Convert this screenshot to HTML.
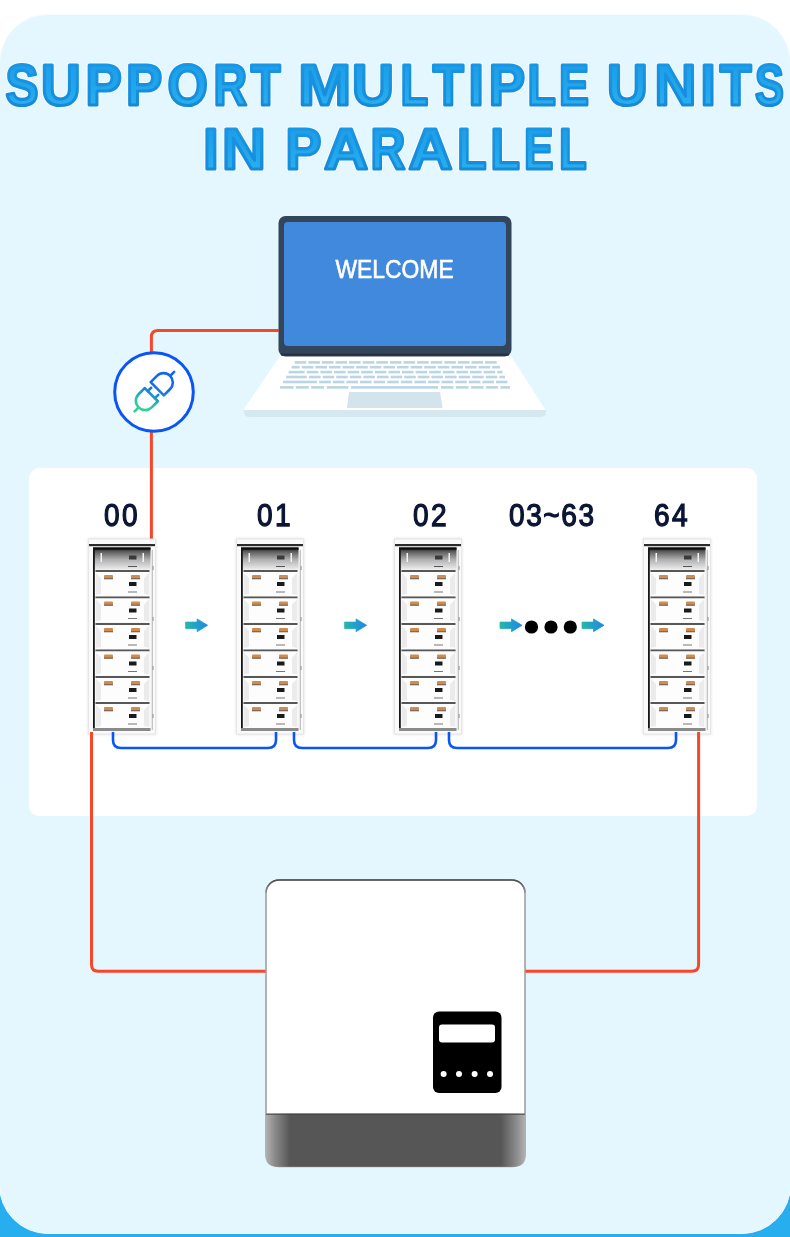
<!DOCTYPE html>
<html><head><meta charset="utf-8">
<style>
*{box-sizing:border-box;margin:0;padding:0}
html,body{width:790px;height:1237px;overflow:hidden}
body{position:relative;font-family:"Liberation Sans",sans-serif;background:linear-gradient(#fff 0,#fff 50%,#27aeee 50%,#27aeee 100%)}
.abs{position:absolute}
#panel{left:-1px;top:14px;width:792px;height:1220px;background:#e4f6fe;border-radius:49px;border:1px solid #f6fcff}
.title{position:absolute;left:0;width:790px;text-align:center;font-weight:bold;font-size:60px;line-height:60px;white-space:nowrap}
.title span{display:inline-block;background:linear-gradient(#45b4f0 0%,#1f9ce8 40%,#1e9ae6 75%,#1887d6 100%);-webkit-background-clip:text;background-clip:text;color:transparent}
#wpanel{left:28.5px;top:468px;width:728.5px;height:348.4px;background:#fff;border-radius:10px}
.num{position:absolute;font-weight:normal;font-size:30.5px;line-height:31px;color:#0b1534;-webkit-text-stroke:1.25px #0b1534;white-space:nowrap;letter-spacing:2.6px;transform:scaleX(0.92);transform-origin:0 0}
.rk{position:absolute;width:68px;height:200px;filter:drop-shadow(0 0 2px rgba(0,0,0,0.12))}
#welcome{position:absolute;left:300px;width:190px;top:256.5px;text-align:center;color:#fff;font-size:25px;line-height:25px;white-space:nowrap}
#welcome span{display:inline-block;transform:scaleX(0.915);-webkit-text-stroke:0.6px #fff}
</style></head>
<body>
<div id="panel" class="abs"></div>

<div id="wpanel" class="abs"></div>

<svg class="abs" style="left:0;top:0" width="790" height="1237">
<defs>
 <linearGradient id="topg" x1="0" y1="0" x2="0" y2="1"><stop offset="0" stop-color="#1a1a1a"/><stop offset="0.2" stop-color="#606060"/><stop offset="0.55" stop-color="#b0b0b0"/><stop offset="1" stop-color="#ececec"/></linearGradient>
 <linearGradient id="arg" x1="0" y1="0" x2="1" y2="0"><stop offset="0" stop-color="#26b8a8"/><stop offset="1" stop-color="#1f86ea"/></linearGradient>
 <linearGradient id="plg" gradientUnits="userSpaceOnUse" gradientTransform="rotate(45)" x1="-8" y1="18" x2="8" y2="-18"><stop offset="0" stop-color="#30d096"/><stop offset="0.17" stop-color="#28c2a4"/><stop offset="0.33" stop-color="#1ea2c8"/><stop offset="0.48" stop-color="#1a82e0"/><stop offset="0.65" stop-color="#166cec"/><stop offset="1" stop-color="#1466f0"/></linearGradient>
 <linearGradient id="invb" x1="0" y1="0" x2="1" y2="0"><stop offset="0" stop-color="#b4b4b4"/><stop offset="0.035" stop-color="#8c8c8c"/><stop offset="0.095" stop-color="#565656"/><stop offset="0.905" stop-color="#565656"/><stop offset="0.965" stop-color="#8c8c8c"/><stop offset="1" stop-color="#b4b4b4"/></linearGradient>
 <linearGradient id="invt" gradientUnits="userSpaceOnUse" x1="0" y1="880" x2="0" y2="893"><stop offset="0" stop-color="#4a4a4a"/><stop offset="1" stop-color="#9a9a9a"/></linearGradient>
 <linearGradient id="tg" gradientUnits="userSpaceOnUse" x1="0" y1="-42" x2="0" y2="2"><stop offset="0" stop-color="#1c9ee9"/><stop offset="0.5" stop-color="#20a6ec"/><stop offset="1" stop-color="#28b0ef"/></linearGradient>
 <linearGradient id="tgs" gradientUnits="userSpaceOnUse" x1="0" y1="-42" x2="0" y2="2"><stop offset="0" stop-color="#1a96e4"/><stop offset="1" stop-color="#168ad9"/></linearGradient>
 <symbol id="rack" viewBox="0 0 68 200" width="68" height="200">
<rect x="0.5" y="3" width="67" height="195" fill="#fafafa" stroke="#e6e6e6" stroke-width="1"/>
<rect x="1" y="8" width="66" height="2.2" fill="#2b2b2b"/>
<rect x="5" y="12" width="57.5" height="183" fill="#f2f2f2"/>
<rect x="5" y="11.5" width="57.5" height="22" fill="url(#topg)"/>
<rect x="12.5" y="17" width="1.5" height="9" fill="#f4f4f4"/>
<rect x="54.5" y="17" width="1.5" height="9" fill="#f4f4f4"/>
<rect x="41" y="19.5" width="7.5" height="4" fill="#3a3a3a"/>
<rect x="5" y="11.5" width="57.5" height="2.2" fill="#0d0d0d"/>
<rect x="40" y="30" width="9" height="1" fill="#555"/>
<rect x="7.5" y="34.0" width="54" height="2" fill="#575757"/>
<rect x="7.5" y="36.0" width="54" height="24" fill="#fdfdfd"/>
<path d="M8 37.0 L13 42.0 L13 58.0 L8 59.0Z" fill="#ebebeb"/>
<path d="M61 37.0 L56 42.0 L56 58.0 L61 59.0Z" fill="#ebebeb"/>
<rect x="16" y="39.0" width="9" height="4" rx="1" fill="#cf8c4e"/>
<rect x="16" y="42.0" width="9" height="1.3" fill="#7d6a5e"/>
<rect x="43" y="39.0" width="9" height="4" rx="1" fill="#cf8c4e"/>
<rect x="43" y="42.0" width="9" height="1.3" fill="#7d6a5e"/>
<rect x="41" y="46.0" width="7.5" height="4" fill="#1a1a1a"/>
<rect x="40" y="55.5" width="9" height="1" fill="#777"/>
<rect x="7.5" y="60.5" width="54" height="2" fill="#575757"/>
<rect x="7.5" y="62.5" width="54" height="24" fill="#fdfdfd"/>
<path d="M8 63.5 L13 68.5 L13 84.5 L8 85.5Z" fill="#ebebeb"/>
<path d="M61 63.5 L56 68.5 L56 84.5 L61 85.5Z" fill="#ebebeb"/>
<rect x="16" y="65.5" width="9" height="4" rx="1" fill="#cf8c4e"/>
<rect x="16" y="68.5" width="9" height="1.3" fill="#7d6a5e"/>
<rect x="43" y="65.5" width="9" height="4" rx="1" fill="#cf8c4e"/>
<rect x="43" y="68.5" width="9" height="1.3" fill="#7d6a5e"/>
<rect x="41" y="72.5" width="7.5" height="4" fill="#1a1a1a"/>
<rect x="40" y="82.0" width="9" height="1" fill="#777"/>
<rect x="7.5" y="87.0" width="54" height="2" fill="#575757"/>
<rect x="7.5" y="89.0" width="54" height="24" fill="#fdfdfd"/>
<path d="M8 90.0 L13 95.0 L13 111.0 L8 112.0Z" fill="#ebebeb"/>
<path d="M61 90.0 L56 95.0 L56 111.0 L61 112.0Z" fill="#ebebeb"/>
<rect x="16" y="92.0" width="9" height="4" rx="1" fill="#cf8c4e"/>
<rect x="16" y="95.0" width="9" height="1.3" fill="#7d6a5e"/>
<rect x="43" y="92.0" width="9" height="4" rx="1" fill="#cf8c4e"/>
<rect x="43" y="95.0" width="9" height="1.3" fill="#7d6a5e"/>
<rect x="41" y="99.0" width="7.5" height="4" fill="#1a1a1a"/>
<rect x="40" y="108.5" width="9" height="1" fill="#777"/>
<rect x="7.5" y="113.5" width="54" height="2" fill="#575757"/>
<rect x="7.5" y="115.5" width="54" height="24" fill="#fdfdfd"/>
<path d="M8 116.5 L13 121.5 L13 137.5 L8 138.5Z" fill="#ebebeb"/>
<path d="M61 116.5 L56 121.5 L56 137.5 L61 138.5Z" fill="#ebebeb"/>
<rect x="16" y="118.5" width="9" height="4" rx="1" fill="#cf8c4e"/>
<rect x="16" y="121.5" width="9" height="1.3" fill="#7d6a5e"/>
<rect x="43" y="118.5" width="9" height="4" rx="1" fill="#cf8c4e"/>
<rect x="43" y="121.5" width="9" height="1.3" fill="#7d6a5e"/>
<rect x="41" y="125.5" width="7.5" height="4" fill="#1a1a1a"/>
<rect x="40" y="135.0" width="9" height="1" fill="#777"/>
<rect x="7.5" y="140.0" width="54" height="2" fill="#575757"/>
<rect x="7.5" y="142.0" width="54" height="24" fill="#fdfdfd"/>
<path d="M8 143.0 L13 148.0 L13 164.0 L8 165.0Z" fill="#ebebeb"/>
<path d="M61 143.0 L56 148.0 L56 164.0 L61 165.0Z" fill="#ebebeb"/>
<rect x="16" y="145.0" width="9" height="4" rx="1" fill="#cf8c4e"/>
<rect x="16" y="148.0" width="9" height="1.3" fill="#7d6a5e"/>
<rect x="43" y="145.0" width="9" height="4" rx="1" fill="#cf8c4e"/>
<rect x="43" y="148.0" width="9" height="1.3" fill="#7d6a5e"/>
<rect x="41" y="152.0" width="7.5" height="4" fill="#1a1a1a"/>
<rect x="40" y="161.5" width="9" height="1" fill="#777"/>
<rect x="7.5" y="166.0" width="54" height="2" fill="#575757"/>
<rect x="7.5" y="168.0" width="54" height="24" fill="#fdfdfd"/>
<path d="M8 169.0 L13 174.0 L13 190.0 L8 191.0Z" fill="#ebebeb"/>
<path d="M61 169.0 L56 174.0 L56 190.0 L61 191.0Z" fill="#ebebeb"/>
<rect x="16" y="171.0" width="9" height="4" rx="1" fill="#cf8c4e"/>
<rect x="16" y="174.0" width="9" height="1.3" fill="#7d6a5e"/>
<rect x="43" y="171.0" width="9" height="4" rx="1" fill="#cf8c4e"/>
<rect x="43" y="174.0" width="9" height="1.3" fill="#7d6a5e"/>
<rect x="41" y="178.0" width="7.5" height="4" fill="#1a1a1a"/>
<rect x="40" y="187.5" width="9" height="1" fill="#777"/>
<rect x="5" y="12" width="1.8" height="183" fill="#151515"/>
<rect x="5" y="192" width="57.5" height="3" fill="#8a8a8a"/>
<rect x="64.5" y="30" width="1" height="4" fill="#888"/><rect x="64.5" y="81" width="1" height="4" fill="#888"/><rect x="64.5" y="130" width="1" height="4" fill="#888"/><rect x="64.5" y="178" width="1" height="4" fill="#888"/>
<rect x="63.8" y="14" width="0.8" height="180" fill="#a0a0a0"/>
</symbol>
</defs>
<g font-family="Liberation Sans" font-weight="bold" font-size="58" fill="#fff" stroke="#fff" stroke-opacity="0.75" stroke-width="5.2" stroke-linejoin="round">
<text transform="translate(5.60 104.8) scale(0.853 1)">S</text>
<text transform="translate(41.11 104.8) scale(0.947 1)">U</text>
<text transform="translate(85.43 104.8) scale(0.936 1)">P</text>
<text transform="translate(125.93 104.8) scale(0.936 1)">P</text>
<text transform="translate(167.51 104.8) scale(0.893 1)">O</text>
<text transform="translate(213.59 104.8) scale(0.803 1)">R</text>
<text transform="translate(250.74 104.8) scale(0.841 1)">T</text>
<text transform="translate(298.31 104.8) scale(1.095 1)">M</text>
<text transform="translate(351.90 104.8) scale(1.000 1)">U</text>
<text transform="translate(400.44 104.8) scale(0.782 1)">L</text>
<text transform="translate(432.68 104.8) scale(0.876 1)">T</text>
<text transform="translate(468.50 104.8) scale(0.950 1)">I</text>
<text transform="translate(488.72 104.8) scale(0.939 1)">P</text>
<text transform="translate(527.40 104.8) scale(0.800 1)">L</text>
<text transform="translate(558.95 104.8) scale(0.775 1)">E</text>
<text transform="translate(607.05 104.8) scale(0.974 1)">U</text>
<text transform="translate(654.40 104.8) scale(1.000 1)">N</text>
<text transform="translate(700.42 104.8) scale(0.942 1)">I</text>
<text transform="translate(719.70 104.8) scale(0.897 1)">T</text>
<text transform="translate(754.90 104.8) scale(0.747 1)">S</text>
<text transform="translate(203.20 169.1) scale(0.950 1)">I</text>
<text transform="translate(222.01 169.1) scale(1.047 1)">N</text>
<text transform="translate(285.54 169.1) scale(0.928 1)">P</text>
<text transform="translate(324.10 169.1) scale(1.055 1)">A</text>
<text transform="translate(370.53 169.1) scale(0.835 1)">R</text>
<text transform="translate(408.60 169.1) scale(1.050 1)">A</text>
<text transform="translate(457.15 169.1) scale(0.827 1)">L</text>
<text transform="translate(490.54 169.1) scale(0.830 1)">L</text>
<text transform="translate(524.08 169.1) scale(0.761 1)">E</text>
<text transform="translate(559.04 169.1) scale(0.782 1)">L</text>
</g>
<g font-family="Liberation Sans" font-weight="bold" font-size="58" fill="url(#tg)" stroke="url(#tgs)" stroke-width="3.2" stroke-linejoin="round">
<text transform="translate(5.60 104.8) scale(0.853 1)">S</text>
<text transform="translate(41.11 104.8) scale(0.947 1)">U</text>
<text transform="translate(85.43 104.8) scale(0.936 1)">P</text>
<text transform="translate(125.93 104.8) scale(0.936 1)">P</text>
<text transform="translate(167.51 104.8) scale(0.893 1)">O</text>
<text transform="translate(213.59 104.8) scale(0.803 1)">R</text>
<text transform="translate(250.74 104.8) scale(0.841 1)">T</text>
<text transform="translate(298.31 104.8) scale(1.095 1)">M</text>
<text transform="translate(351.90 104.8) scale(1.000 1)">U</text>
<text transform="translate(400.44 104.8) scale(0.782 1)">L</text>
<text transform="translate(432.68 104.8) scale(0.876 1)">T</text>
<text transform="translate(468.50 104.8) scale(0.950 1)">I</text>
<text transform="translate(488.72 104.8) scale(0.939 1)">P</text>
<text transform="translate(527.40 104.8) scale(0.800 1)">L</text>
<text transform="translate(558.95 104.8) scale(0.775 1)">E</text>
<text transform="translate(607.05 104.8) scale(0.974 1)">U</text>
<text transform="translate(654.40 104.8) scale(1.000 1)">N</text>
<text transform="translate(700.42 104.8) scale(0.942 1)">I</text>
<text transform="translate(719.70 104.8) scale(0.897 1)">T</text>
<text transform="translate(754.90 104.8) scale(0.747 1)">S</text>
<text transform="translate(203.20 169.1) scale(0.950 1)">I</text>
<text transform="translate(222.01 169.1) scale(1.047 1)">N</text>
<text transform="translate(285.54 169.1) scale(0.928 1)">P</text>
<text transform="translate(324.10 169.1) scale(1.055 1)">A</text>
<text transform="translate(370.53 169.1) scale(0.835 1)">R</text>
<text transform="translate(408.60 169.1) scale(1.050 1)">A</text>
<text transform="translate(457.15 169.1) scale(0.827 1)">L</text>
<text transform="translate(490.54 169.1) scale(0.830 1)">L</text>
<text transform="translate(524.08 169.1) scale(0.761 1)">E</text>
<text transform="translate(559.04 169.1) scale(0.782 1)">L</text>
</g>
<!-- laptop -->
<path d="M280 356 H511 L545 409 Q546 411 543 411 H246 Q243 411 244 409 Z" fill="#ffffff"/>
<path d="M244 410 H546 Q547 417 540 417 H250 Q243 417 244 410 Z" fill="#d5e7ef"/>
<path d="M349 392 H440 L442.5 408 H347 Z" fill="#d3e4ec"/>
<rect x="294.7" y="361.09999999999997" width="11.6" height="2.6" fill="#bbd5e3"/>
<rect x="308.3" y="361.09999999999997" width="11.6" height="2.6" fill="#bbd5e3"/>
<rect x="321.9" y="361.09999999999997" width="11.6" height="2.6" fill="#bbd5e3"/>
<rect x="335.5" y="361.09999999999997" width="11.6" height="2.6" fill="#bbd5e3"/>
<rect x="349.1" y="361.09999999999997" width="11.6" height="2.6" fill="#bbd5e3"/>
<rect x="362.7" y="361.09999999999997" width="11.6" height="2.6" fill="#bbd5e3"/>
<rect x="376.3" y="361.09999999999997" width="11.6" height="2.6" fill="#bbd5e3"/>
<rect x="389.9" y="361.09999999999997" width="11.6" height="2.6" fill="#bbd5e3"/>
<rect x="403.5" y="361.09999999999997" width="11.6" height="2.6" fill="#bbd5e3"/>
<rect x="417.1" y="361.09999999999997" width="11.6" height="2.6" fill="#bbd5e3"/>
<rect x="430.7" y="361.09999999999997" width="11.6" height="2.6" fill="#bbd5e3"/>
<rect x="444.3" y="361.09999999999997" width="11.6" height="2.6" fill="#bbd5e3"/>
<rect x="457.9" y="361.09999999999997" width="11.6" height="2.6" fill="#bbd5e3"/>
<rect x="471.5" y="361.09999999999997" width="11.6" height="2.6" fill="#bbd5e3"/>
<rect x="485.1" y="361.09999999999997" width="11.6" height="2.6" fill="#bbd5e3"/>
<rect x="291.6" y="365.9" width="8.0" height="2.6" fill="#bbd5e3"/>
<rect x="301.8" y="365.9" width="11.6" height="2.6" fill="#bbd5e3"/>
<rect x="315.4" y="365.9" width="11.6" height="2.6" fill="#bbd5e3"/>
<rect x="329.0" y="365.9" width="11.6" height="2.6" fill="#bbd5e3"/>
<rect x="342.6" y="365.9" width="11.6" height="2.6" fill="#bbd5e3"/>
<rect x="356.2" y="365.9" width="11.6" height="2.6" fill="#bbd5e3"/>
<rect x="369.8" y="365.9" width="11.6" height="2.6" fill="#bbd5e3"/>
<rect x="383.4" y="365.9" width="11.6" height="2.6" fill="#bbd5e3"/>
<rect x="397.0" y="365.9" width="11.6" height="2.6" fill="#bbd5e3"/>
<rect x="410.6" y="365.9" width="11.6" height="2.6" fill="#bbd5e3"/>
<rect x="424.2" y="365.9" width="11.6" height="2.6" fill="#bbd5e3"/>
<rect x="437.8" y="365.9" width="11.6" height="2.6" fill="#bbd5e3"/>
<rect x="451.4" y="365.9" width="11.6" height="2.6" fill="#bbd5e3"/>
<rect x="465.0" y="365.9" width="11.6" height="2.6" fill="#bbd5e3"/>
<rect x="478.6" y="365.9" width="11.6" height="2.6" fill="#bbd5e3"/>
<rect x="492.2" y="365.9" width="7.8" height="2.6" fill="#bbd5e3"/>
<rect x="288.6" y="370.8" width="16.0" height="2.6" fill="#bbd5e3"/>
<rect x="306.8" y="370.8" width="11.6" height="2.6" fill="#bbd5e3"/>
<rect x="320.4" y="370.8" width="11.6" height="2.6" fill="#bbd5e3"/>
<rect x="334.0" y="370.8" width="11.6" height="2.6" fill="#bbd5e3"/>
<rect x="347.6" y="370.8" width="11.6" height="2.6" fill="#bbd5e3"/>
<rect x="361.2" y="370.8" width="11.6" height="2.6" fill="#bbd5e3"/>
<rect x="374.8" y="370.8" width="11.6" height="2.6" fill="#bbd5e3"/>
<rect x="388.4" y="370.8" width="11.6" height="2.6" fill="#bbd5e3"/>
<rect x="402.0" y="370.8" width="11.6" height="2.6" fill="#bbd5e3"/>
<rect x="415.6" y="370.8" width="11.6" height="2.6" fill="#bbd5e3"/>
<rect x="429.2" y="370.8" width="11.6" height="2.6" fill="#bbd5e3"/>
<rect x="442.8" y="370.8" width="11.6" height="2.6" fill="#bbd5e3"/>
<rect x="456.4" y="370.8" width="11.6" height="2.6" fill="#bbd5e3"/>
<rect x="470.0" y="370.8" width="11.6" height="2.6" fill="#bbd5e3"/>
<rect x="483.6" y="370.8" width="11.6" height="2.6" fill="#bbd5e3"/>
<rect x="497.2" y="370.8" width="5.3" height="2.6" fill="#bbd5e3"/>
<rect x="286.2" y="375.7" width="20.6" height="2.6" fill="#bbd5e3"/>
<rect x="309.0" y="375.7" width="11.6" height="2.6" fill="#bbd5e3"/>
<rect x="322.6" y="375.7" width="11.6" height="2.6" fill="#bbd5e3"/>
<rect x="336.2" y="375.7" width="11.6" height="2.6" fill="#bbd5e3"/>
<rect x="349.8" y="375.7" width="11.6" height="2.6" fill="#bbd5e3"/>
<rect x="363.4" y="375.7" width="11.6" height="2.6" fill="#bbd5e3"/>
<rect x="377.0" y="375.7" width="11.6" height="2.6" fill="#bbd5e3"/>
<rect x="390.6" y="375.7" width="11.6" height="2.6" fill="#bbd5e3"/>
<rect x="404.2" y="375.7" width="11.6" height="2.6" fill="#bbd5e3"/>
<rect x="417.8" y="375.7" width="11.6" height="2.6" fill="#bbd5e3"/>
<rect x="431.4" y="375.7" width="11.6" height="2.6" fill="#bbd5e3"/>
<rect x="445.0" y="375.7" width="11.6" height="2.6" fill="#bbd5e3"/>
<rect x="458.6" y="375.7" width="11.6" height="2.6" fill="#bbd5e3"/>
<rect x="472.2" y="375.7" width="11.6" height="2.6" fill="#bbd5e3"/>
<rect x="485.8" y="375.7" width="11.6" height="2.6" fill="#bbd5e3"/>
<rect x="499.4" y="375.7" width="5.6" height="2.6" fill="#bbd5e3"/>
<rect x="283.1" y="380.7" width="33.9" height="2.6" fill="#bbd5e3"/>
<rect x="319.2" y="380.7" width="11.6" height="2.6" fill="#bbd5e3"/>
<rect x="332.8" y="380.7" width="11.6" height="2.6" fill="#bbd5e3"/>
<rect x="346.4" y="380.7" width="11.6" height="2.6" fill="#bbd5e3"/>
<rect x="360.0" y="380.7" width="11.6" height="2.6" fill="#bbd5e3"/>
<rect x="373.6" y="380.7" width="11.6" height="2.6" fill="#bbd5e3"/>
<rect x="387.2" y="380.7" width="11.6" height="2.6" fill="#bbd5e3"/>
<rect x="400.8" y="380.7" width="11.6" height="2.6" fill="#bbd5e3"/>
<rect x="414.4" y="380.7" width="11.6" height="2.6" fill="#bbd5e3"/>
<rect x="428.0" y="380.7" width="11.6" height="2.6" fill="#bbd5e3"/>
<rect x="441.6" y="380.7" width="11.6" height="2.6" fill="#bbd5e3"/>
<rect x="455.2" y="380.7" width="11.6" height="2.6" fill="#bbd5e3"/>
<rect x="468.8" y="380.7" width="11.6" height="2.6" fill="#bbd5e3"/>
<rect x="482.4" y="380.7" width="11.6" height="2.6" fill="#bbd5e3"/>
<rect x="496.0" y="380.7" width="11.5" height="2.6" fill="#bbd5e3"/>
<rect x="280" y="386.09999999999997" width="13.6" height="2.6" fill="#bbd5e3"/>
<rect x="295.8" y="386.09999999999997" width="13.0" height="2.6" fill="#bbd5e3"/>
<rect x="311.2" y="386.09999999999997" width="12.8" height="2.6" fill="#bbd5e3"/>
<rect x="326.7" y="386.09999999999997" width="21.6" height="2.6" fill="#bbd5e3"/>
<rect x="351" y="386.09999999999997" width="87.0" height="2.6" fill="#bbd5e3"/>
<rect x="441" y="386.09999999999997" width="12.5" height="2.6" fill="#bbd5e3"/>
<rect x="456" y="386.09999999999997" width="12.5" height="2.6" fill="#bbd5e3"/>
<rect x="471" y="386.09999999999997" width="12.5" height="2.6" fill="#bbd5e3"/>
<rect x="486" y="386.09999999999997" width="12.0" height="2.6" fill="#bbd5e3"/>
<rect x="500.5" y="386.09999999999997" width="9.5" height="2.6" fill="#bbd5e3"/>
<rect x="278.5" y="216" width="233" height="140.5" rx="7" fill="#33455a"/>
<rect x="284" y="222" width="222" height="124" rx="4" fill="#4189dc"/>
<path d="M281 354.6 H509" stroke="#212d40" stroke-width="1.6"/>

<!-- wires -->
<path d="M151.4 352 V337 Q151.4 330.5 158 330.5 H279" fill="none" stroke="#f8462a" stroke-width="3"/>
<path d="M151.4 432 V540" fill="none" stroke="#f8462a" stroke-width="3"/>
<!-- plug circle -->
<circle cx="154" cy="392" r="39.3" fill="#fff" stroke="#0a55f6" stroke-width="3"/>
<g transform="translate(154 392) rotate(-45)" fill="none" stroke="url(#plg)" stroke-width="2.6" stroke-linecap="round" stroke-linejoin="round">
  <path d="M4.6 -9.3 V9.3 H13.5 A9.3 9.3 0 0 0 13.5 -9.3 Z"/>
  <path d="M23 0 H28.5"/>
  <path d="M-3.8 -9.3 V9.3 H-12.5 A9.3 9.3 0 0 1 -12.5 -9.3 Z"/>
  <path d="M-22 0 H-27.5"/>
  <path d="M-3.8 -5 H1 M-3.8 5 H1"/>
</g>

<!-- racks -->
<use href="#rack" x="88" y="536" style="filter:drop-shadow(0 0 1.5px rgba(0,0,0,0.13))"/>
<use href="#rack" x="236" y="536" style="filter:drop-shadow(0 0 1.5px rgba(0,0,0,0.13))"/>
<use href="#rack" x="394" y="536" style="filter:drop-shadow(0 0 1.5px rgba(0,0,0,0.13))"/>
<use href="#rack" x="643" y="536" style="filter:drop-shadow(0 0 1.5px rgba(0,0,0,0.13))"/>

<path d="M185.6 622.0999999999999 H197.1 V618.9 L207.6 625.3 L197.1 631.6999999999999 V628.5 H185.6 Z" fill="url(#arg)" stroke="url(#arg)" stroke-width="0.8" stroke-linejoin="round"/>
<path d="M344.6 622.0999999999999 H356.1 V618.9 L366.6 625.3 L356.1 631.6999999999999 V628.5 H344.6 Z" fill="url(#arg)" stroke="url(#arg)" stroke-width="0.8" stroke-linejoin="round"/>
<path d="M500 622.0999999999999 H511.5 V618.9 L522 625.3 L511.5 631.6999999999999 V628.5 H500 Z" fill="url(#arg)" stroke="url(#arg)" stroke-width="0.8" stroke-linejoin="round"/>
<path d="M582 622.0999999999999 H593.5 V618.9 L604 625.3 L593.5 631.6999999999999 V628.5 H582 Z" fill="url(#arg)" stroke="url(#arg)" stroke-width="0.8" stroke-linejoin="round"/>
<circle cx="531.5" cy="627" r="6.6" fill="#000"/>
<circle cx="551" cy="627" r="6.6" fill="#000"/>
<circle cx="570.3" cy="627" r="6.6" fill="#000"/>

<path d="M91.5 732 V964.5 Q91.5 971.2 98 971.2 H266" fill="none" stroke="#f8462a" stroke-width="3"/>
<path d="M524 971.2 H692 Q698.6 971.2 698.6 964.5 V732" fill="none" stroke="#f8462a" stroke-width="3"/>
<path d="M113 732 V740 Q113 748 121 748 H268 Q276 748 276 740 V732" fill="none" stroke="#0a55f8" stroke-width="2.6"/>
<path d="M294 732 V740 Q294 748 302 748 H428 Q436 748 436 740 V732" fill="none" stroke="#0a55f8" stroke-width="2.6"/>
<path d="M449 732 V740 Q449 748 457 748 H668 Q676 748 676 740 V732" fill="none" stroke="#0a55f8" stroke-width="2.6"/>

<!-- inverter -->
<rect x="266" y="880" width="259" height="286.5" rx="13" fill="#fff" stroke="#9a9a9a" stroke-width="1.5"/>
<path d="M266 893 A13 13 0 0 1 279 880 H512 A13 13 0 0 1 525 893" fill="none" stroke="url(#invt)" stroke-width="1.6"/>
<path d="M265.3 1113.5 H525.7 V1155 Q525.7 1166.7 514 1166.7 H277 Q265.3 1166.7 265.3 1155 Z" fill="url(#invb)"/>
<path d="M266 1114.2 H525" stroke="#444" stroke-width="1"/>
<rect x="433" y="1011.5" width="68.5" height="81.5" rx="6" fill="#000"/>
<rect x="439" y="1024.5" width="56" height="18" rx="3" fill="#fff"/>
<circle cx="443.6" cy="1074" r="3" fill="#fff"/>
<circle cx="459" cy="1074" r="3" fill="#fff"/>
<circle cx="474.6" cy="1074" r="3" fill="#fff"/>
<circle cx="490" cy="1074" r="3" fill="#fff"/>
</svg>

<div id="welcome"><span>WELCOME</span></div>

<div class="num" style="left:103.5px;top:500px">00</div>
<div class="num" style="left:256.5px;top:500px">01</div>
<div class="num" style="left:412.5px;top:500px">02</div>
<div class="num" style="left:508.5px;top:500px;letter-spacing:1.7px">03~63</div>
<div class="num" style="left:653.5px;top:500px">64</div>

</body></html>
